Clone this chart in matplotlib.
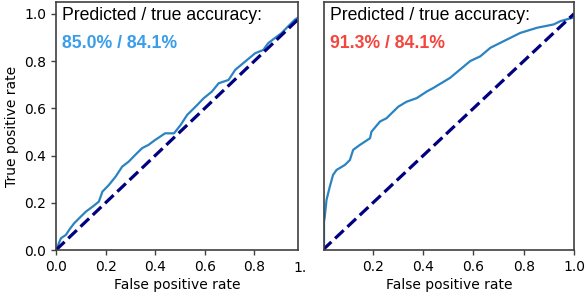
import numpy as np
import matplotlib.pyplot as plt
from matplotlib.transforms import Bbox, TransformedBbox

# ROC curve (left: near chance, right: overconfident)
fpr_left = [0.0, 0.004, 0.02, 0.04, 0.053, 0.073, 0.093, 0.12, 0.147, 0.173, 0.187,
            0.213, 0.24, 0.267, 0.293, 0.32, 0.347, 0.373, 0.40, 0.44, 0.476, 0.503,
            0.529, 0.563, 0.596, 0.629, 0.656, 0.696, 0.723, 0.763, 0.803, 0.836,
            0.856, 0.909, 0.963, 1.0]
tpr_left = [0.0, 0.01, 0.05, 0.064, 0.085, 0.113, 0.134, 0.162, 0.183, 0.205, 0.247,
            0.275, 0.31, 0.353, 0.374, 0.403, 0.431, 0.445, 0.466, 0.494, 0.494, 0.53,
            0.572, 0.607, 0.643, 0.671, 0.706, 0.72, 0.763, 0.798, 0.833, 0.847,
            0.876, 0.918, 0.975, 1.0]

fpr_right = [0.005, 0.005, 0.008, 0.015, 0.028, 0.041, 0.055, 0.088, 0.108, 0.121,
             0.148, 0.188, 0.194, 0.228, 0.254, 0.274, 0.301, 0.334, 0.374, 0.414,
             0.44, 0.507, 0.587, 0.627, 0.667, 0.733, 0.786, 0.853, 0.919, 0.946, 1.0]
tpr_right = [0.0, 0.12, 0.14, 0.212, 0.268, 0.318, 0.339, 0.36, 0.381, 0.424,
             0.445, 0.473, 0.501, 0.544, 0.558, 0.579, 0.607, 0.628, 0.643, 0.671,
             0.686, 0.729, 0.80, 0.82, 0.856, 0.891, 0.919, 0.941, 0.955, 0.969, 0.985]

acc_text = ['85.0% / 84.1%', '91.3% / 84.1%']
acc_colors = ['#3a9de9', '#f5453d']

W, H = 586, 296
fig = plt.figure(figsize=(W / 100, H / 100), dpi=100)
ax1 = fig.add_axes([56 / W, 1 - 250 / H, 242 / W, 248 / H])
ax2 = fig.add_axes([324 / W, 1 - 250 / H, 250 / W, 248 / H])

curve_col = '#2b84c1'
spine_col = '#404040'

for ax, fpr, tpr, txt, col in [(ax1, fpr_left, tpr_left, acc_text[0], acc_colors[0]),
                               (ax2, fpr_right, tpr_right, acc_text[1], acc_colors[1])]:
    ax.plot(fpr, tpr, color=curve_col, lw=1.6)
    ax.plot([0, 1], [0, 1], color='navy', lw=2.3, ls='--')
    ax.set_ylim(0, 1.05)
    ax.set_xlabel('False positive rate', fontsize=10, labelpad=3)
    for s in ax.spines.values():
        s.set_color(spine_col)
        s.set_linewidth(1.2)
    ax.tick_params(colors=spine_col, labelcolor='black', labelsize=10, width=1.0, length=3.5)
    ax.text(0.024, 0.927, 'Predicted / true accuracy:', transform=ax.transAxes,
            fontsize=12.7, family='Liberation Sans', va='baseline')
    ax.text(0.024, 0.816, txt, transform=ax.transAxes, fontsize=12.7,
            family='Liberation Sans', fontweight='bold', color=col, va='baseline')

ax1.set_xlim(0, 0.976)
ax1.set_xticks([0.0, 0.2, 0.4, 0.6, 0.8])
ax1.set_yticks([0.0, 0.2, 0.4, 0.6, 0.8, 1.0])
ax1.set_ylabel('True positive rate', fontsize=10)

# the left panel's "1.0" label is cut off in the reference
t = ax1.text(1.0, -0.045, '1.0', transform=ax1.get_xaxis_transform(), fontsize=10,
             ha='center', va='top')
t.set_clip_box(TransformedBbox(Bbox([[0, 0], [306 / W, 1]]), fig.transFigure))
t.set_clip_on(True)

ax2.set_xlim(0.005, 1.0)
ax2.set_xticks([0.2, 0.4, 0.6, 0.8, 1.0])
ax2.set_yticks([0.0, 0.2, 0.4, 0.6, 0.8, 1.0])
ax2.tick_params(axis='y', left=False, labelleft=False)

fig.savefig('out.png', dpi=100)
